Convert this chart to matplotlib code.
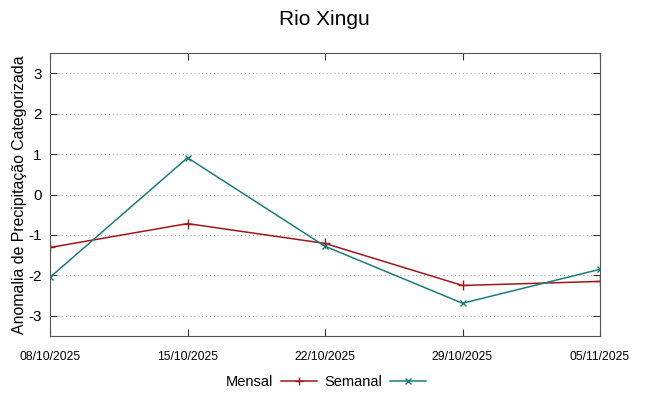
import matplotlib
matplotlib.use("Agg")
import matplotlib.pyplot as plt
import numpy as np

plt.rcParams['font.family'] = ['Liberation Sans', 'DejaVu Sans']

datas = ['08/10/2025', '15/10/2025', '22/10/2025', '29/10/2025', '05/11/2025']
mensal = [-1.31, -0.72, -1.21, -2.25, -2.15]
semanal = [-2.05, 0.91, -1.28, -2.69, -1.85]
yticks = [-3, -2, -1, 0, 1, 2, 3]

cor_mensal = '#a0171d'
cor_semanal = '#1b7c7c'

fig = plt.figure(figsize=(6.48, 3.96), dpi=100)
ax = fig.add_axes([50 / 648, 60 / 396, 550 / 648, 283 / 396])

x = np.arange(len(datas))
ax.plot(x, mensal, color=cor_mensal, lw=1.1, marker='+', ms=7, mew=1.0, label='Mensal')
ax.plot(x, semanal, color=cor_semanal, lw=1.1, marker='x', ms=5, mew=1.0, label='Semanal')

ax.set_xlim(0, len(datas) - 1)
ax.set_ylim(-3.5, 3.5)
ax.set_xticks(x)
ax.set_xticklabels(datas, fontsize=8.8)
ax.set_yticks(yticks)
ax.set_yticklabels([str(v) for v in yticks], fontsize=11)
ax.tick_params(direction='in', top=True, right=True, length=5, color='#333333', pad=6)
ax.tick_params(axis='x', pad=11)
ax.grid(axis='y', linestyle=(0, (1, 2.5)), color='#aaaaaa', lw=0.8)
for s in ax.spines.values():
    s.set_color('#555555')

ax.set_ylabel('Anomalia de Precipitação Categorizada', fontsize=11.4, labelpad=1)
fig.suptitle('Rio Xingu', fontsize=15, y=0.975)

ax.legend(loc='center', bbox_to_anchor=(326 / 648, 14 / 396), bbox_transform=fig.transFigure,
          ncol=2, frameon=False, markerfirst=False, fontsize=10.5, handlelength=2.5,
          columnspacing=0.5, handletextpad=0.5, markerscale=0.8)

fig.savefig('out.png', dpi=100)
